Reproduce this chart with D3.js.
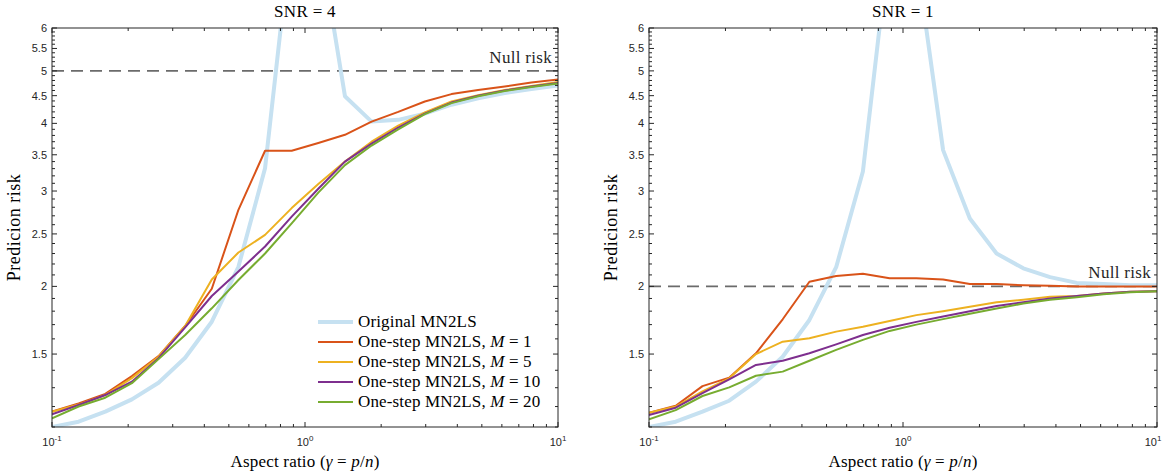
<!DOCTYPE html>
<html><head><meta charset="utf-8">
<script src="https://cdn.jsdelivr.net/npm/d3@7/dist/d3.min.js"></script>
<style>body{margin:0;background:#fff}</style>
</head><body>
<svg id="c" width="1163" height="474"></svg>
<script>
// ---------- data ----------
const gamma = [0.1, 0.1274, 0.1624, 0.2069, 0.2637, 0.3360, 0.4281, 0.5456, 0.6952, 0.8859,
               1.1288, 1.4384, 1.8330, 2.3357, 2.9764, 3.7927, 4.8329, 6.1585, 7.8476, 10];
const seriesNames = ["Original MN2LS", "One-step MN2LS, M = 1", "One-step MN2LS, M = 5",
                     "One-step MN2LS, M = 10", "One-step MN2LS, M = 20"];
const mValues = [null, 1, 5, 10, 20];
// SNR = 4 panel
const origL = [1.10, 1.125, 1.174, 1.237, 1.328, 1.477, 1.721, 2.174, 3.304, 9.1, 9.0, 4.49, 4.03, 4.06, 4.17, 4.33, 4.45, 4.55, 4.63, 4.70];
const m1L   = [1.175, 1.216, 1.266, 1.366, 1.487, 1.69, 1.98, 2.77, 3.56, 3.56, 3.68, 3.81, 4.03, 4.20, 4.39, 4.53, 4.61, 4.68, 4.76, 4.82];
const m5L   = [1.174, 1.21, 1.26, 1.354, 1.483, 1.69, 2.06, 2.31, 2.49, 2.79, 3.09, 3.40, 3.70, 3.96, 4.19, 4.39, 4.51, 4.61, 4.69, 4.77];
const m10L  = [1.161, 1.208, 1.26, 1.334, 1.474, 1.68, 1.92, 2.13, 2.37, 2.69, 3.03, 3.40, 3.67, 3.93, 4.17, 4.37, 4.50, 4.60, 4.68, 4.75];
const m20L  = [1.141, 1.20, 1.246, 1.325, 1.468, 1.627, 1.822, 2.055, 2.30, 2.615, 2.98, 3.35, 3.64, 3.90, 4.16, 4.36, 4.49, 4.59, 4.67, 4.74];
// SNR = 1 panel
const origR = [1.10, 1.125, 1.174, 1.23, 1.334, 1.483, 1.734, 2.17, 3.26, 8.7, 8.1, 3.57, 2.67, 2.30, 2.16, 2.08, 2.03, 2.02, 2.01, 2.01];
const m1R   = [1.169, 1.204, 1.309, 1.357, 1.505, 1.739, 2.04, 2.09, 2.11, 2.07, 2.07, 2.06, 2.02, 2.02, 2.01, 2.005, 2.0, 2.0, 2.0, 2.0];
const m5R   = [1.169, 1.20, 1.28, 1.353, 1.50, 1.581, 1.604, 1.65, 1.685, 1.726, 1.77, 1.80, 1.835, 1.87, 1.89, 1.914, 1.92, 1.94, 1.955, 1.96];
const m10R  = [1.158, 1.194, 1.27, 1.347, 1.432, 1.458, 1.505, 1.563, 1.627, 1.678, 1.72, 1.76, 1.80, 1.84, 1.87, 1.90, 1.92, 1.94, 1.955, 1.96];
const m20R  = [1.137, 1.182, 1.255, 1.302, 1.368, 1.392, 1.458, 1.527, 1.593, 1.655, 1.70, 1.74, 1.78, 1.82, 1.86, 1.89, 1.91, 1.935, 1.95, 1.96];
const titles = ["SNR = 4", "SNR = 1"];
const nullRisk = [5, 2];
const yMajorTicks = [1.5, 2, 2.5, 3, 3.5, 4, 4.5, 5, 5.5, 6];
const yMinorTicks = [1.1,1.2,1.3,1.4,1.6,1.7,1.8,1.9,2.1,2.2,2.3,2.4,2.6,2.7,2.8,2.9,3.1,3.2,3.3,3.4,3.6,3.7,3.8,3.9,4.1,4.2,4.3,4.4,4.6,4.7,4.8,4.9,5.1,5.2,5.3,5.4,5.6,5.7,5.8,5.9];
const xMajorTicks = [0.1, 1, 10];
const xTickExp = ["-1", "0", "1"];
const xMinorTicks = [0.2,0.3,0.4,0.5,0.6,0.7,0.8,0.9,2,3,4,5,6,7,8,9];

const colors = ["#c6e1f1", "#D95319", "#EDB120", "#7E2F8E", "#77AC30"];
const widths = [4, 2, 2, 2, 2];

const panels = [
  {x0: 52, x1: 558, series: [origL, m1L, m5L, m10L, m20L], legend: true},
  {x0: 649, x1: 1157, series: [origR, m1R, m5R, m10R, m20R], legend: false}
];
const yTop = 28, yBot = 427;
const serif = "'Liberation Serif', 'Times New Roman', serif";
const sans = "'Liberation Sans', Arial, sans-serif";
const axisCol = "#262626";

const svg = d3.select("#c");

panels.forEach((p, pi) => {
  const x = d3.scaleLog().domain([0.1, 10]).range([p.x0, p.x1]);
  const y = d3.scaleLog().domain([1.1, 6]).range([yBot, yTop]);
  const g = svg.append("g");
  const cid = "clip" + pi;
  svg.append("defs").append("clipPath").attr("id", cid)
    .append("rect").attr("x", p.x0).attr("y", yTop).attr("width", p.x1 - p.x0).attr("height", yBot - yTop);

  // null risk
  g.append("line").attr("x1", p.x0).attr("x2", p.x1)
    .attr("y1", y(nullRisk[pi])).attr("y2", y(nullRisk[pi]))
    .attr("stroke", "#6b6b6b").attr("stroke-width", 1.6).attr("stroke-dasharray", "12,7");
  g.append("text").attr("x", p.x1 - 6).attr("y", y(nullRisk[pi]) - 8)
    .attr("text-anchor", "end").attr("font-family", serif).attr("font-size", 17)
    .attr("letter-spacing", 0.3).attr("fill", axisCol).text("Null risk");

  // lines
  const line = d3.line().x((d, i) => x(gamma[i])).y(d => y(d));
  const lg = g.append("g").attr("clip-path", `url(#${cid})`);
  p.series.forEach((s, si) => {
    lg.append("path").datum(s).attr("d", line).attr("fill", "none")
      .attr("stroke", colors[si]).attr("stroke-width", widths[si])
      .attr("stroke-linejoin", "round");
  });

  // axes box
  const ax = g.append("g").attr("stroke", axisCol).attr("stroke-width", 1);
  ax.append("rect").attr("x", p.x0).attr("y", yTop).attr("width", p.x1 - p.x0).attr("height", yBot - yTop)
    .attr("fill", "none");
  yMajorTicks.forEach(t => {
    const yy = y(t);
    ax.append("line").attr("x1", p.x0).attr("x2", p.x0 + 5).attr("y1", yy).attr("y2", yy);
    ax.append("line").attr("x1", p.x1).attr("x2", p.x1 - 5).attr("y1", yy).attr("y2", yy);
  });
  yMinorTicks.forEach(t => {
    const yy = y(t);
    ax.append("line").attr("x1", p.x0).attr("x2", p.x0 + 3).attr("y1", yy).attr("y2", yy);
    ax.append("line").attr("x1", p.x1).attr("x2", p.x1 - 3).attr("y1", yy).attr("y2", yy);
  });
  xMajorTicks.forEach(t => {
    const xx = x(t);
    ax.append("line").attr("x1", xx).attr("x2", xx).attr("y1", yBot).attr("y2", yBot - 5);
    ax.append("line").attr("x1", xx).attr("x2", xx).attr("y1", yTop).attr("y2", yTop + 5);
  });
  xMinorTicks.forEach(t => {
    const xx = x(t);
    ax.append("line").attr("x1", xx).attr("x2", xx).attr("y1", yBot).attr("y2", yBot - 3);
    ax.append("line").attr("x1", xx).attr("x2", xx).attr("y1", yTop).attr("y2", yTop + 3);
  });
  yMajorTicks.forEach(t => {
    g.append("text").attr("x", p.x0 - 5).attr("y", y(t) + 4)
      .attr("text-anchor", "end").attr("font-family", sans).attr("font-size", 11)
      .attr("fill", axisCol).text(t);
  });
  xMajorTicks.forEach((t, i) => {
    const tx = g.append("text").attr("x", x(t)).attr("y", 446)
      .attr("text-anchor", "middle").attr("font-family", sans).attr("font-size", 11)
      .attr("fill", axisCol);
    tx.append("tspan").text("10");
    tx.append("tspan").attr("dy", -5).attr("font-size", 8).text(xTickExp[i]);
    const bb = tx.node().getBBox();
    if (bb.x + bb.width > 1162) tx.attr("x", x(t) - (bb.x + bb.width - 1162));
  });

  // titles
  const cx = (p.x0 + p.x1) / 2;
  g.append("text").attr("x", cx).attr("y", 17).attr("text-anchor", "middle")
    .attr("font-family", serif).attr("font-size", 17).attr("letter-spacing", 0.3)
    .attr("fill", "#000").text(titles[pi]);
  const xl = g.append("text").attr("x", cx).attr("y", 467).attr("text-anchor", "middle")
    .attr("font-family", serif).attr("font-size", 17).attr("letter-spacing", 0.2).attr("fill", "#000");
  xl.append("tspan").text("Aspect ratio (");
  xl.append("tspan").attr("font-style", "italic").text("γ");
  xl.append("tspan").text(" = ");
  xl.append("tspan").attr("font-style", "italic").text("p");
  xl.append("tspan").text("/");
  xl.append("tspan").attr("font-style", "italic").text("n");
  xl.append("tspan").text(")");
  g.append("text").attr("transform", `translate(${p.x0 - 32},${(yTop + yBot) / 2}) rotate(-90)`)
    .attr("text-anchor", "middle").attr("font-family", serif).attr("font-size", 18)
    .attr("letter-spacing", 0.5).attr("fill", "#000").text("Predicion risk");

  // legend
  if (p.legend) {
    const lx = 318, ly = 322;
    seriesNames.forEach((n, i) => {
      const yy = ly + i * 20;
      g.append("line").attr("x1", lx).attr("x2", lx + 35).attr("y1", yy).attr("y2", yy)
        .attr("stroke", colors[i]).attr("stroke-width", widths[i]);
      const t = g.append("text").attr("x", lx + 40).attr("y", yy + 5)
        .attr("font-family", serif).attr("font-size", 17).attr("letter-spacing", 0.15).attr("fill", "#000");
      if (mValues[i] === null) {
        t.text(n);
      } else {
        t.append("tspan").text("One-step MN2LS, ");
        t.append("tspan").attr("font-style", "italic").text("M");
        t.append("tspan").text(" = " + mValues[i]);
      }
    });
  }
});
</script>
</body></html>
